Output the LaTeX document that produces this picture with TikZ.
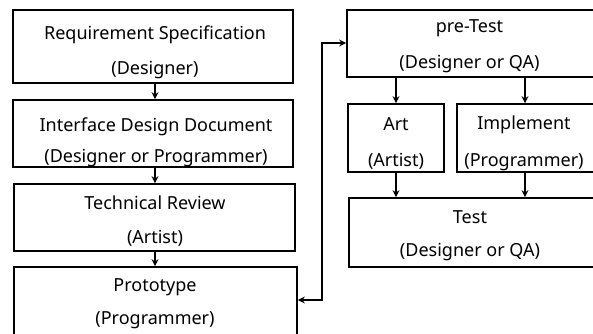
\documentclass[tikz,border=0pt]{standalone}
\usepackage{fontspec}
\setmainfont{Noto Sans}
\usetikzlibrary{arrows.meta}
\begin{document}
\begin{tikzpicture}[x=1pt,y=-1pt,
  >={Stealth[length=7pt,width=7pt]},
  box/.style={draw,line width=1.7pt,inner sep=0pt},
  txt/.style={align=center,inner sep=0pt,font=\fontsize{18}{#1}\selectfont},
  txt/.default=34,
  flow/.style={line width=1.4pt,->}]
\useasboundingbox (0,0) rectangle (593,333);
\clip (0,0) rectangle (593,333);
% left column: outlines
\node[box,minimum width=280pt,minimum height=73pt] (req) at (153,46.5) {};
\node[box,minimum width=280pt,minimum height=67pt] (ifd) at (153,133.5) {};
\node[box,minimum width=281pt,minimum height=67pt] (tech) at (154.5,217.5) {};
\node[box,minimum width=283pt,minimum height=69pt] (proto) at (155.5,301.5) {};
% right column: outlines (run past the right edge)
\node[box,minimum width=247pt,minimum height=67pt] (pre) at (470.5,43.5) {};
\node[box,minimum width=96pt,minimum height=68pt] (art) at (396,138) {};
\node[box,minimum width=137pt,minimum height=68pt] (impl) at (525.5,138) {};
\node[box,minimum width=245pt,minimum height=69pt] (test) at (471.5,232.5) {};
% labels
\node[txt=34.5] (req-t) at (155,52.5) {Requirement Specification\\(Designer)};
\node[txt=31] (ifd-t) at (156,142.5) {Interface Design Document\\(Designer or Programmer)};
\node[txt=34] (tech-t) at (155,221.5) {Technical Review\\(Artist)};
\node[txt=33.5] (proto-t) at (155,303.5) {Prototype\\(Programmer)};
\node[txt=36] (pre-t) at (469.5,46.5) {pre-Test\\(Designer or QA)};
\node[txt=36.5] (art-t) at (396,143.5) {Art\\(Artist)};
\node[txt=36.5] (impl-t) at (524,143.5) {Implement\\(Programmer)};
\node[txt=33.5] (test-t) at (470,235.5) {Test\\(Designer or QA)};
% connectors
\draw[flow] (req.south -| 155,0) -- (ifd.north -| 155,0);
\draw[flow] (ifd.south -| 155,0) -- (tech.north -| 155,0);
\draw[flow] (tech.south -| 155,0) -- (proto.north -| 155,0);
\draw[flow] (pre.south -| art) -- (art.north);
\draw[flow] (pre.south -| 525,0) -- (impl.north -| 525,0);
\draw[flow] (art.south) -- (test.north -| art);
\draw[flow] (impl.south -| 525,0) -- (test.north -| 525,0);
\coordinate (turn) at (322,300);
\draw[line width=1.4pt,<->] (proto.east |- turn) -- (turn) -- (turn |- 0,43) -- (pre.west |- 0,43);
\end{tikzpicture}
\end{document}
